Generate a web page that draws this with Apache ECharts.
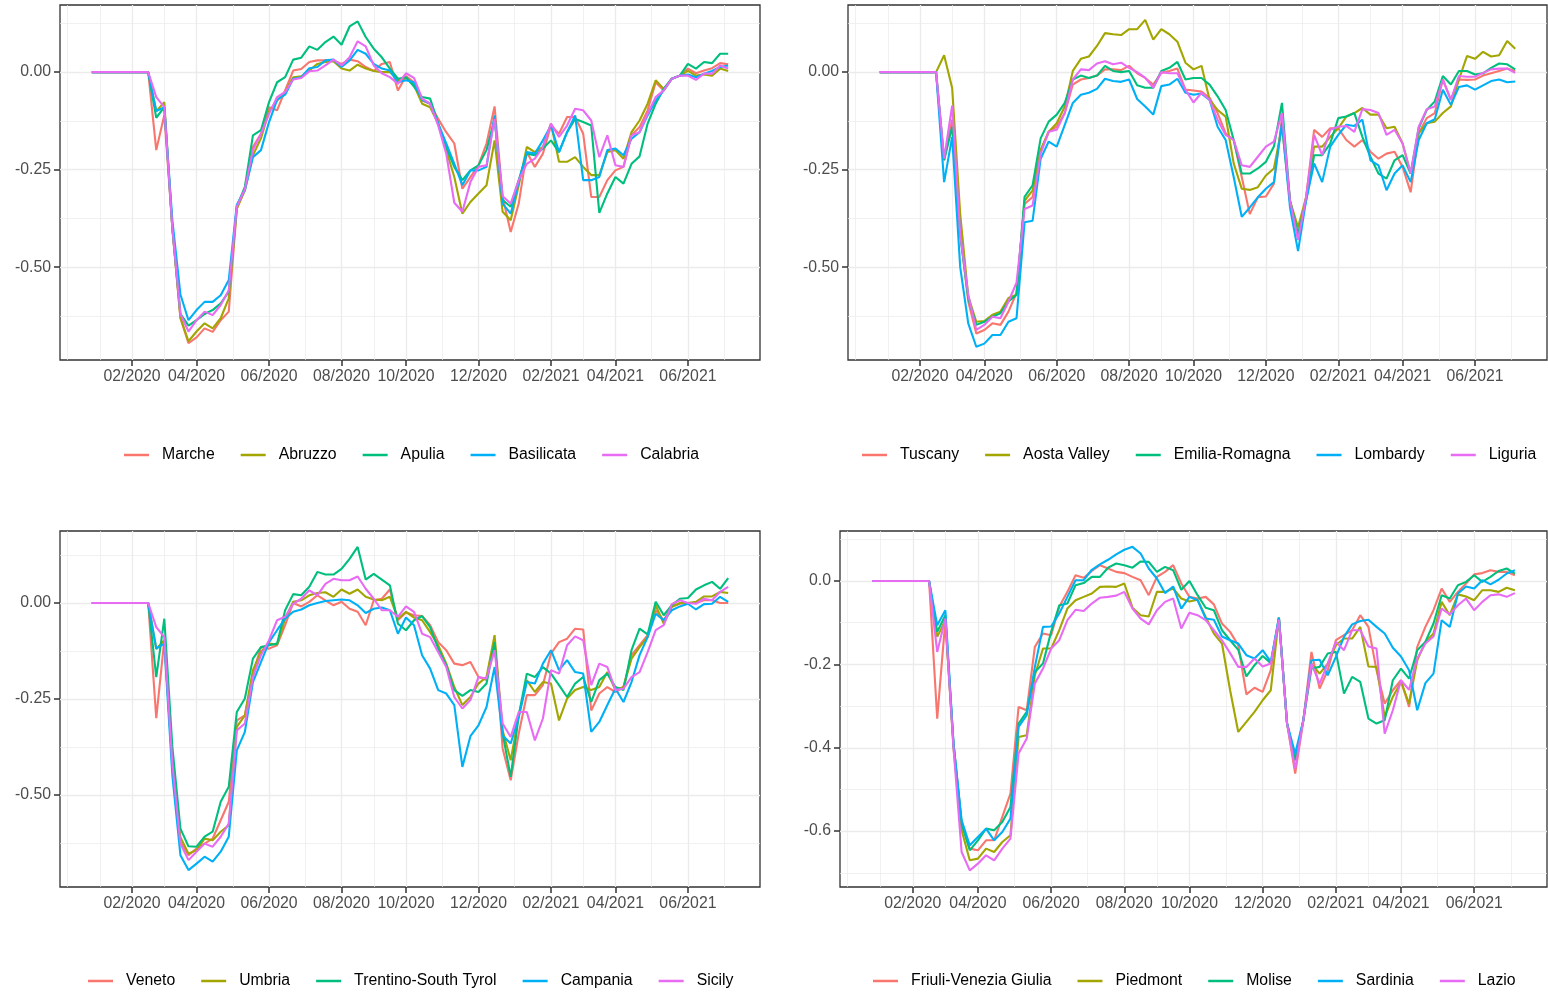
<!DOCTYPE html>
<html>
<head>
<meta charset="utf-8">
<script src="https://cdn.jsdelivr.net/npm/echarts@6/dist/echarts.min.js"></script>
<style>
html, body { margin: 0; padding: 0; background: #fff; }
#main { width: 1548px; height: 993px; }
</style>
</head>
<body>
<div id="main"></div>
<script>
// weekly index, 0 = first week of 2020
var tickWeeks = [5, 13, 22, 31, 39, 48, 57, 65, 74];
var tickLabels = ['02/2020', '04/2020', '06/2020', '08/2020', '10/2020', '12/2020', '02/2021', '04/2021', '06/2021'];
var minorWeeks = [-3, 1, 9, 17.5, 26.5, 35, 43.5, 52.5, 61, 69.5, 78.5];
var colors = ['#F8766D', '#A3A500', '#00BF7D', '#00B0F6', '#E76BF3'];

// panel 1
var marche = [0,0,0,0,0,0,0,0,-0.20,-0.11,-0.40,-0.63,-0.695,-0.68,-0.657,-0.666,-0.636,-0.614,-0.35,-0.30,-0.192,-0.158,-0.09,-0.098,-0.047,0.004,0.008,0.026,0.030,0.030,0.030,0.021,0.032,0.028,0.013,0.003,0.021,0.026,-0.047,-0.01,-0.026,-0.073,-0.081,-0.12,-0.154,-0.183,-0.299,-0.269,-0.239,-0.183,-0.088,-0.32,-0.41,-0.337,-0.205,-0.243,-0.209,-0.137,-0.158,-0.115,-0.115,-0.158,-0.32,-0.32,-0.277,-0.252,-0.243,-0.162,-0.141,-0.098,-0.026,-0.047,-0.017,-0.009,0.009,-0.003,0.004,0.010,0.023,0.020];
var abruzzo = [0,0,0,0,0,0,0,0,-0.10,-0.077,-0.40,-0.63,-0.69,-0.665,-0.644,-0.657,-0.631,-0.58,-0.35,-0.303,-0.213,-0.17,-0.10,-0.073,-0.051,-0.013,-0.011,0.004,0.021,0.026,0.028,0.009,0.004,0.019,0.009,0.003,0.0,0.0,-0.021,-0.015,-0.034,-0.081,-0.09,-0.132,-0.20,-0.269,-0.363,-0.333,-0.311,-0.29,-0.175,-0.358,-0.38,-0.29,-0.192,-0.205,-0.192,-0.132,-0.23,-0.23,-0.218,-0.243,-0.264,-0.264,-0.205,-0.20,-0.222,-0.154,-0.124,-0.081,-0.021,-0.043,-0.017,-0.009,0.003,-0.009,-0.006,-0.009,0.009,0.003];
var apulia = [0,0,0,0,0,0,0,0,-0.117,-0.09,-0.40,-0.62,-0.65,-0.636,-0.62,-0.61,-0.593,-0.563,-0.345,-0.294,-0.162,-0.149,-0.077,-0.026,-0.013,0.032,0.037,0.066,0.057,0.077,0.091,0.070,0.117,0.13,0.09,0.06,0.038,0.009,-0.017,-0.013,-0.037,-0.064,-0.068,-0.132,-0.192,-0.243,-0.277,-0.252,-0.239,-0.20,-0.12,-0.328,-0.345,-0.277,-0.209,-0.213,-0.196,-0.175,-0.205,-0.154,-0.12,-0.128,-0.137,-0.361,-0.311,-0.269,-0.286,-0.235,-0.216,-0.132,-0.081,-0.043,-0.017,-0.009,0.021,0.009,0.026,0.023,0.047,0.047];
var basilicata = [0,0,0,0,0,0,0,0,-0.10,-0.09,-0.38,-0.57,-0.636,-0.61,-0.589,-0.589,-0.572,-0.533,-0.34,-0.303,-0.218,-0.20,-0.128,-0.071,-0.058,-0.017,-0.013,0.010,0.013,0.030,0.032,0.013,0.030,0.057,0.047,0.021,0.009,0.004,-0.026,-0.021,-0.026,-0.071,-0.081,-0.132,-0.183,-0.235,-0.29,-0.252,-0.252,-0.243,-0.111,-0.337,-0.363,-0.282,-0.205,-0.209,-0.175,-0.137,-0.205,-0.154,-0.111,-0.277,-0.277,-0.269,-0.20,-0.196,-0.213,-0.171,-0.154,-0.111,-0.073,-0.047,-0.017,-0.009,-0.006,-0.013,-0.004,0.003,0.013,0.017];
var calabria = [0,0,0,0,0,0,0,0,-0.064,-0.09,-0.40,-0.62,-0.665,-0.636,-0.614,-0.623,-0.597,-0.559,-0.345,-0.30,-0.20,-0.158,-0.107,-0.064,-0.051,-0.019,-0.015,0.002,0.004,0.017,0.032,0.017,0.038,0.079,0.066,0.017,-0.003,-0.013,-0.030,-0.003,-0.015,-0.068,-0.081,-0.137,-0.209,-0.335,-0.358,-0.282,-0.243,-0.239,-0.12,-0.318,-0.337,-0.277,-0.235,-0.222,-0.192,-0.132,-0.166,-0.137,-0.094,-0.098,-0.124,-0.218,-0.162,-0.239,-0.243,-0.162,-0.154,-0.107,-0.064,-0.047,-0.017,-0.009,-0.009,-0.02,-0.004,-0.004,0.017,0.009];

// panel 2
var tuscany = [0,0,0,0,0,0,0,0,-0.226,-0.122,-0.415,-0.588,-0.67,-0.661,-0.644,-0.648,-0.614,-0.566,-0.338,-0.32,-0.20,-0.153,-0.14,-0.105,-0.032,-0.019,-0.015,-0.009,0.007,0.007,0.005,0.016,-0.003,-0.015,-0.032,-0.002,0.003,0.009,-0.045,-0.047,-0.05,-0.066,-0.105,-0.157,-0.174,-0.269,-0.364,-0.321,-0.319,-0.286,-0.118,-0.33,-0.424,-0.321,-0.148,-0.166,-0.144,-0.144,-0.174,-0.191,-0.174,-0.204,-0.222,-0.209,-0.204,-0.243,-0.308,-0.157,-0.118,-0.105,-0.019,-0.071,-0.019,-0.02,-0.019,-0.009,-0.003,0.003,0.009,0.003];
var aosta = [0,0,0,0,0,0,0,0,0.043,-0.041,-0.364,-0.575,-0.64,-0.638,-0.622,-0.614,-0.579,-0.571,-0.33,-0.303,-0.20,-0.153,-0.131,-0.088,0.003,0.034,0.040,0.067,0.10,0.097,0.095,0.11,0.11,0.134,0.083,0.11,0.097,0.078,0.024,0.007,0.016,-0.071,-0.097,-0.114,-0.234,-0.299,-0.302,-0.295,-0.265,-0.247,-0.14,-0.33,-0.398,-0.321,-0.191,-0.191,-0.166,-0.144,-0.114,-0.105,-0.092,-0.109,-0.109,-0.144,-0.14,-0.183,-0.26,-0.157,-0.131,-0.127,-0.105,-0.088,-0.019,0.041,0.034,0.052,0.04,0.043,0.08,0.06];
var emilia = [0,0,0,0,0,0,0,0,-0.226,-0.14,-0.415,-0.58,-0.648,-0.64,-0.627,-0.618,-0.588,-0.571,-0.32,-0.29,-0.17,-0.127,-0.109,-0.079,-0.019,-0.009,-0.015,-0.009,0.016,0.003,0.0,0.003,-0.034,-0.04,-0.04,0.003,0.011,0.026,-0.019,-0.015,-0.015,-0.032,-0.062,-0.097,-0.174,-0.26,-0.26,-0.247,-0.23,-0.191,-0.079,-0.33,-0.415,-0.329,-0.213,-0.213,-0.183,-0.118,-0.114,-0.105,-0.166,-0.217,-0.26,-0.273,-0.226,-0.213,-0.26,-0.144,-0.097,-0.075,-0.01,-0.032,0.003,0.003,-0.006,-0.003,0.011,0.022,0.02,0.007];
var lombardy = [0,0,0,0,0,0,0,0,-0.282,-0.166,-0.50,-0.644,-0.704,-0.696,-0.674,-0.674,-0.64,-0.631,-0.385,-0.381,-0.222,-0.178,-0.191,-0.135,-0.079,-0.058,-0.053,-0.043,-0.017,-0.023,-0.025,-0.019,-0.069,-0.088,-0.109,-0.036,-0.032,-0.017,-0.053,-0.058,-0.055,-0.071,-0.14,-0.174,-0.269,-0.371,-0.347,-0.321,-0.299,-0.282,-0.13,-0.347,-0.459,-0.329,-0.234,-0.282,-0.191,-0.161,-0.135,-0.138,-0.122,-0.226,-0.239,-0.303,-0.26,-0.239,-0.282,-0.174,-0.131,-0.121,-0.045,-0.084,-0.038,-0.034,-0.045,-0.034,-0.023,-0.019,-0.026,-0.024];
var liguria = [0,0,0,0,0,0,0,0,-0.222,-0.086,-0.415,-0.571,-0.661,-0.648,-0.627,-0.631,-0.588,-0.54,-0.351,-0.342,-0.209,-0.153,-0.148,-0.105,-0.019,0.007,0.005,0.022,0.028,0.02,0.024,0.011,0.0,-0.015,-0.04,0.0,-0.003,-0.003,-0.045,-0.078,-0.053,-0.071,-0.122,-0.161,-0.174,-0.239,-0.243,-0.217,-0.191,-0.178,-0.105,-0.33,-0.43,-0.321,-0.161,-0.213,-0.148,-0.14,-0.138,-0.153,-0.095,-0.097,-0.105,-0.161,-0.148,-0.183,-0.26,-0.14,-0.095,-0.088,-0.019,-0.071,-0.01,-0.012,-0.012,-0.002,0.007,0.009,0.009,-0.002];

// panel 3
var veneto = [0,0,0,0,0,0,0,0,-0.30,-0.097,-0.42,-0.622,-0.657,-0.64,-0.627,-0.614,-0.566,-0.518,-0.306,-0.293,-0.184,-0.115,-0.119,-0.11,-0.058,0.0,-0.009,0.003,0.02,0.007,-0.006,0.003,-0.015,-0.023,-0.058,0.007,0.011,0.035,-0.045,-0.025,-0.032,-0.034,-0.058,-0.102,-0.123,-0.158,-0.162,-0.154,-0.193,-0.201,-0.097,-0.379,-0.462,-0.34,-0.24,-0.24,-0.214,-0.132,-0.102,-0.093,-0.067,-0.069,-0.28,-0.236,-0.219,-0.232,-0.219,-0.136,-0.11,-0.084,-0.019,-0.045,-0.01,-0.002,0.0,0.0,0.007,0.007,0.0,0.0];
var umbria = [0,0,0,0,0,0,0,0,-0.12,-0.097,-0.42,-0.61,-0.653,-0.644,-0.614,-0.618,-0.596,-0.579,-0.323,-0.293,-0.175,-0.128,-0.106,-0.108,-0.041,0.003,0.007,0.02,0.026,0.028,0.016,0.035,0.024,0.035,0.016,0.009,0.007,0.016,-0.041,-0.023,-0.038,-0.045,-0.076,-0.11,-0.158,-0.219,-0.266,-0.245,-0.21,-0.193,-0.084,-0.332,-0.41,-0.293,-0.201,-0.232,-0.206,-0.21,-0.306,-0.249,-0.227,-0.219,-0.227,-0.219,-0.18,-0.227,-0.219,-0.145,-0.115,-0.089,-0.006,-0.054,-0.01,0.0,0.0,0.003,0.017,0.017,0.029,0.026];
var trentino = [0,0,0,0,0,0,0,0,-0.193,-0.041,-0.375,-0.588,-0.634,-0.635,-0.609,-0.596,-0.518,-0.479,-0.284,-0.249,-0.145,-0.115,-0.11,-0.106,-0.019,0.023,0.02,0.042,0.081,0.074,0.074,0.089,0.115,0.146,0.061,0.076,0.061,0.046,-0.054,-0.071,-0.045,-0.034,-0.063,-0.119,-0.162,-0.227,-0.242,-0.227,-0.232,-0.21,-0.102,-0.34,-0.453,-0.293,-0.184,-0.193,-0.167,-0.184,-0.214,-0.245,-0.21,-0.193,-0.258,-0.201,-0.184,-0.219,-0.227,-0.123,-0.067,-0.082,0.003,-0.032,-0.006,0.011,0.013,0.035,0.046,0.055,0.037,0.065];
var campania = [0,0,0,0,0,0,0,0,-0.119,-0.106,-0.45,-0.657,-0.696,-0.679,-0.661,-0.674,-0.648,-0.609,-0.384,-0.336,-0.206,-0.154,-0.102,-0.071,-0.041,-0.023,-0.017,-0.006,0.0,0.005,0.007,0.009,0.007,-0.006,-0.026,-0.015,-0.012,-0.019,-0.08,-0.038,-0.058,-0.136,-0.171,-0.227,-0.236,-0.266,-0.427,-0.347,-0.319,-0.271,-0.167,-0.345,-0.366,-0.297,-0.206,-0.21,-0.158,-0.123,-0.175,-0.149,-0.18,-0.184,-0.336,-0.31,-0.266,-0.223,-0.258,-0.206,-0.136,-0.089,-0.028,-0.045,-0.019,-0.009,-0.002,-0.017,-0.003,-0.002,0.016,0.003];
var sicily = [0,0,0,0,0,0,0,0,-0.063,-0.089,-0.42,-0.627,-0.67,-0.648,-0.627,-0.635,-0.609,-0.575,-0.332,-0.314,-0.193,-0.136,-0.097,-0.045,-0.036,-0.002,0.011,0.033,0.02,0.05,0.063,0.059,0.059,0.069,0.037,0.011,-0.019,-0.019,-0.036,-0.009,-0.023,-0.08,-0.089,-0.128,-0.167,-0.245,-0.275,-0.253,-0.193,-0.197,-0.123,-0.314,-0.349,-0.284,-0.284,-0.358,-0.301,-0.175,-0.184,-0.11,-0.087,-0.097,-0.214,-0.158,-0.167,-0.227,-0.223,-0.193,-0.18,-0.128,-0.071,-0.058,-0.003,0.007,0.0,-0.002,0.011,0.007,0.029,0.042];

// panel 4
var friuli = [0,0,0,0,0,0,0,0,-0.33,-0.094,-0.39,-0.582,-0.642,-0.646,-0.622,-0.622,-0.566,-0.51,-0.302,-0.31,-0.158,-0.126,-0.13,-0.062,-0.026,0.014,0.008,0.024,0.038,0.03,0.022,0.019,0.01,0.002,-0.034,0.01,0.022,0.038,-0.006,-0.038,-0.042,-0.038,-0.056,-0.102,-0.122,-0.154,-0.272,-0.256,-0.266,-0.214,-0.088,-0.342,-0.462,-0.334,-0.17,-0.258,-0.214,-0.142,-0.13,-0.118,-0.082,-0.11,-0.214,-0.294,-0.262,-0.238,-0.302,-0.158,-0.11,-0.07,-0.018,-0.05,-0.026,-0.006,0.016,0.019,0.026,0.022,0.022,0.014];
var piedmont = [0,0,0,0,0,0,0,0,-0.134,-0.094,-0.40,-0.598,-0.67,-0.666,-0.642,-0.65,-0.626,-0.61,-0.374,-0.37,-0.226,-0.162,-0.162,-0.118,-0.066,-0.046,-0.038,-0.03,-0.014,-0.013,-0.014,-0.006,-0.064,-0.082,-0.085,-0.026,-0.026,-0.018,-0.042,-0.049,-0.045,-0.086,-0.126,-0.15,-0.262,-0.362,-0.338,-0.314,-0.286,-0.262,-0.088,-0.342,-0.43,-0.334,-0.198,-0.222,-0.198,-0.154,-0.138,-0.138,-0.11,-0.205,-0.206,-0.326,-0.278,-0.242,-0.294,-0.19,-0.146,-0.126,-0.05,-0.082,-0.032,-0.037,-0.046,-0.022,-0.022,-0.026,-0.016,-0.022];
var molise = [0,0,0,0,0,0,0,0,-0.122,-0.082,-0.39,-0.582,-0.646,-0.622,-0.594,-0.598,-0.578,-0.542,-0.342,-0.314,-0.218,-0.198,-0.122,-0.058,-0.054,-0.01,-0.005,0.01,0.01,0.032,0.042,0.038,0.032,0.047,0.046,0.022,0.034,0.026,-0.021,0.0,-0.034,-0.064,-0.07,-0.118,-0.142,-0.165,-0.229,-0.202,-0.18,-0.197,-0.088,-0.342,-0.43,-0.334,-0.21,-0.206,-0.174,-0.17,-0.27,-0.23,-0.242,-0.33,-0.342,-0.334,-0.238,-0.21,-0.234,-0.166,-0.146,-0.102,-0.034,-0.042,-0.01,-0.002,0.014,-0.002,0.01,0.024,0.03,0.018];
var sardinia = [0,0,0,0,0,0,0,0,-0.106,-0.07,-0.39,-0.574,-0.634,-0.614,-0.594,-0.622,-0.602,-0.57,-0.35,-0.322,-0.206,-0.11,-0.109,-0.078,-0.038,0.002,0.002,0.027,0.04,0.051,0.064,0.075,0.082,0.066,0.03,0.006,-0.029,-0.013,-0.066,-0.038,-0.046,-0.09,-0.093,-0.133,-0.142,-0.15,-0.178,-0.186,-0.166,-0.194,-0.088,-0.342,-0.414,-0.334,-0.19,-0.189,-0.226,-0.182,-0.134,-0.104,-0.096,-0.093,-0.11,-0.126,-0.16,-0.181,-0.214,-0.31,-0.245,-0.222,-0.094,-0.11,-0.03,-0.013,-0.018,0.002,-0.008,0.003,0.018,0.026];
var lazio = [0,0,0,0,0,0,0,0,-0.17,-0.09,-0.40,-0.65,-0.694,-0.678,-0.658,-0.67,-0.642,-0.618,-0.414,-0.378,-0.246,-0.21,-0.162,-0.142,-0.094,-0.069,-0.072,-0.054,-0.04,-0.038,-0.035,-0.026,-0.066,-0.09,-0.104,-0.07,-0.05,-0.042,-0.114,-0.076,-0.082,-0.094,-0.118,-0.142,-0.173,-0.206,-0.206,-0.186,-0.205,-0.198,-0.093,-0.342,-0.45,-0.334,-0.198,-0.246,-0.198,-0.146,-0.166,-0.118,-0.118,-0.157,-0.162,-0.366,-0.31,-0.238,-0.261,-0.186,-0.15,-0.133,-0.066,-0.08,-0.058,-0.042,-0.07,-0.05,-0.034,-0.032,-0.038,-0.029];

var panels = [
    { names: ['Marche', 'Abruzzo', 'Apulia', 'Basilicata', 'Calabria'],
      values: [marche, abruzzo, apulia, basilicata, calabria],
      grid: { left: 60, top: 5, width: 700, height: 355 },
      yMin: -0.738, yMax: 0.172, yTicks: [-0.5, -0.25, 0], yMinor: [-0.625, -0.375, -0.125, 0.125], digits: 2,
      legendLeft: 124, legendTop: 447 },
    { names: ['Tuscany', 'Aosta Valley', 'Emilia-Romagna', 'Lombardy', 'Liguria'],
      values: [tuscany, aosta, emilia, lombardy, liguria],
      grid: { left: 848, top: 5, width: 699, height: 355 },
      yMin: -0.738, yMax: 0.172, yTicks: [-0.5, -0.25, 0], yMinor: [-0.625, -0.375, -0.125, 0.125], digits: 2,
      legendLeft: 862, legendTop: 447 },
    { names: ['Veneto', 'Umbria', 'Trentino-South Tyrol', 'Campania', 'Sicily'],
      values: [veneto, umbria, trentino, campania, sicily],
      grid: { left: 60, top: 531, width: 700, height: 356 },
      yMin: -0.74, yMax: 0.1875, yTicks: [-0.5, -0.25, 0], yMinor: [-0.625, -0.375, -0.125, 0.125], digits: 2,
      legendLeft: 88, legendTop: 973 },
    { names: ['Friuli-Venezia Giulia', 'Piedmont', 'Molise', 'Sardinia', 'Lazio'],
      values: [friuli, piedmont, molise, sardinia, lazio],
      grid: { left: 840, top: 531, width: 707, height: 356 },
      yMin: -0.734, yMax: 0.12, yTicks: [-0.6, -0.4, -0.2, 0], yMinor: [-0.7, -0.5, -0.3, -0.1, 0.1], digits: 1,
      legendLeft: 873, legendTop: 973 }
];

var FONT = 'Liberation Sans';
var grids = [], xAxes = [], yAxes = [], legends = [], series = [];

panels.forEach(function (p, i) {
    grids.push({
        left: p.grid.left, top: p.grid.top, width: p.grid.width, height: p.grid.height,
        show: true, borderColor: '#333333', borderWidth: 1.3
    });
    // major x
    xAxes.push({
        type: 'value', gridIndex: i, min: -3.95, max: 82.95, position: 'bottom',
        axisLine: { show: false, onZero: false },
        axisTick: { show: true, customValues: tickWeeks, length: 6, lineStyle: { color: '#333333', width: 1.5 } },
        axisLabel: {
            customValues: tickWeeks, color: '#4D4D4D', fontSize: 15.8, fontFamily: FONT, margin: 9,
            formatter: function (v) {
                var k = tickWeeks.indexOf(v);
                return k >= 0 ? tickLabels[k] : '';
            }
        },
        splitLine: { show: true, lineStyle: { color: '#EBEBEB', width: 1.3 } }
    });
    // minor x
    xAxes.push({
        type: 'value', gridIndex: i, min: -3.95, max: 82.95, position: 'top',
        axisLine: { show: false, onZero: false },
        axisTick: { show: false, customValues: minorWeeks },
        axisLabel: { show: false, customValues: minorWeeks },
        splitLine: { show: true, lineStyle: { color: '#EBEBEB', width: 0.7 } }
    });
    yAxes.push({
        type: 'value', gridIndex: i, min: p.yMin, max: p.yMax, position: 'left',
        axisLine: { show: false, onZero: false },
        axisTick: { show: true, customValues: p.yTicks, length: 6, lineStyle: { color: '#333333', width: 1.5 } },
        axisLabel: {
            customValues: p.yTicks, color: '#4D4D4D', fontSize: 15.8, fontFamily: FONT, margin: 9,
            formatter: function (v) { return v.toFixed(p.digits); }
        },
        splitLine: { show: true, lineStyle: { color: '#EBEBEB', width: 1.3 } }
    });
    yAxes.push({
        type: 'value', gridIndex: i, min: p.yMin, max: p.yMax, position: 'right',
        axisLine: { show: false, onZero: false },
        axisTick: { show: false, customValues: p.yMinor },
        axisLabel: { show: false, customValues: p.yMinor },
        splitLine: { show: true, lineStyle: { color: '#EBEBEB', width: 0.7 } }
    });
    legends.push({
        data: p.names, left: p.legendLeft, top: p.legendTop, padding: 0,
        itemWidth: 25, itemHeight: 2.5, itemGap: 26, icon: 'rect',
        selectedMode: false,
        textStyle: { color: '#000', fontSize: 15.8, fontFamily: FONT, padding: [0, 0, 0, 8] }
    });
    p.names.forEach(function (name, j) {
        series.push({
            name: name, type: 'line',
            xAxisIndex: i * 2, yAxisIndex: i * 2,
            showSymbol: false, symbol: 'none',
            color: colors[j],
            lineStyle: { width: 2.1, color: colors[j] },
            data: p.values[j].map(function (v, w) { return [w, v]; }),
            z: 3
        });
    });
});

var chart = echarts.init(document.getElementById('main'), null, { renderer: 'canvas' });
chart.setOption({
    animation: false,
    backgroundColor: '#fff',
    textStyle: { fontFamily: FONT },
    grid: grids,
    xAxis: xAxes,
    yAxis: yAxes,
    legend: legends,
    series: series
});
</script>
</body>
</html>
